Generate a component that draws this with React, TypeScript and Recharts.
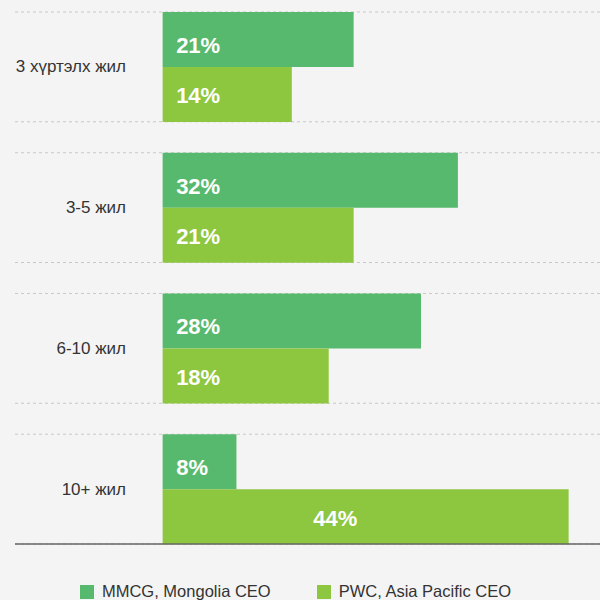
import React from 'react';
import { BarChart, Bar, XAxis, YAxis, CartesianGrid, Legend, LabelList } from 'recharts';

const categories = ['3 хүртэлх жил', '3-5 жил', '6-10 жил', '10+ жил'];
const mmcgValues = [20.7, 32, 28, 8];
const pwcValues = [14, 20.7, 18, 44];
const seriesNames = ['MMCG, Mongolia CEO', 'PWC, Asia Pacific CEO'];
const seriesColors = ['#57b96d', '#8dc63f'];

const data = categories.map((c, i) => ({ name: c, mmcg: mmcgValues[i], pwc: pwcValues[i] }));

const FONT = '"Liberation Sans", Arial, Helvetica, sans-serif';
const CAT_GAP = 0.11;

const bandStart = (scale: any, c: string, i: number, bw: number): number | undefined => {
  try {
    if (typeof scale === 'function') return scale(c);
    if (scale && typeof scale.map === 'function') {
      const v = scale.map(c);
      if (typeof v === 'number') return v;
    }
    if (scale && typeof scale.apply === 'function') {
      const v = scale.apply(c);
      if (typeof v === 'number') return v;
    }
    if (scale && typeof scale.range === 'function') {
      const r = scale.range();
      return Math.min(r[0], r[1]) + i * bw;
    }
  } catch (e) {
    /* ignore */
  }
  return undefined;
};

const gridGen = ({ yAxis }: any) => {
  if (!yAxis || !yAxis.scale) return [];
  const scale = yAxis.scale;
  let bw = 0;
  if (typeof scale.bandwidth === 'function') bw = scale.bandwidth();
  if (!bw && typeof scale.range === 'function') {
    const r = scale.range();
    bw = Math.abs(r[1] - r[0]) / categories.length;
  }
  const out: number[] = [];
  categories.forEach((c, i) => {
    const s = bandStart(scale, c, i, bw);
    if (typeof s === 'number' && !isNaN(s)) out.push(s + bw * CAT_GAP, s + bw * (1 - CAT_GAP));
  });
  return out;
};

const YTick = (props: any) => {
  const { x, y, payload } = props;
  return (
    <text x={x} y={y} dx={111} textAnchor="end" dominantBaseline="central" fill="#333" fontSize={17} fontFamily={FONT}>
      {payload.value}
    </text>
  );
};

const makeLabel = (dyShift: number) => (props: any) => {
  const { x, y, width, height, value } = props;
  const wide = value >= 40;
  return (
    <text
      x={wide ? x + width * 0.425 : x + 13.5}
      y={y + height / 2 + dyShift}
      textAnchor={wide ? 'middle' : 'start'}
      dominantBaseline="central"
      fill="#fff"
      fontWeight="bold"
      fontSize={22}
      fontFamily={FONT}
    >
      {Math.round(value)}%
    </text>
  );
};

const LegendContent = (props: any) => {
  const { payload } = props;
  return (
    <div style={{ display: 'flex', justifyContent: 'center', gap: 46, fontFamily: FONT, fontSize: 16.5, color: '#333', paddingRight: 9 }}>
      {(payload || []).map((p: any) => (
        <div key={p.value} style={{ display: 'flex', alignItems: 'center' }}>
          <span style={{ display: 'inline-block', width: 14, height: 14, background: p.color, marginRight: 8 }} />
          <span>{p.value}</span>
        </div>
      ))}
    </div>
  );
};

export default function App() {
  return (
    <div style={{ position: 'absolute', top: 0, left: 0, width: 600, height: 600, background: '#f4f4f4', overflow: 'hidden' }}>
      <BarChart
        width={600}
        height={600}
        data={data}
        layout="vertical"
        margin={{ top: 12, right: 0, bottom: 55, left: 14 }}
        barCategoryGap={`${CAT_GAP * 100}%`}
        barGap={0}
      >
        <CartesianGrid horizontal vertical={false} stroke="#c8c8c8" strokeDasharray="3 3" horizontalCoordinatesGenerator={gridGen} />
        <XAxis type="number" domain={[-16, 47.4]} allowDataOverflow tick={false} tickLine={false} height={1} axisLine={{ stroke: '#666', strokeWidth: 1.3 }} />
        <YAxis
          type="category"
          dataKey="name"
          width={1}
          tickSize={0}
          tickMargin={0}
          axisLine={false}
          tickLine={false}
          tick={<YTick />}
          padding={{ top: -15.5, bottom: -15.5 }}
          interval={0}
        />
        <Legend
          layout="horizontal"
          verticalAlign="middle"
          align="center"
          wrapperStyle={{ top: 582, left: 0, width: 600 }}
          content={<LegendContent />}
        />
        <Bar dataKey="mmcg" name={seriesNames[0]} fill={seriesColors[0]} isAnimationActive={false}>
          <LabelList dataKey="mmcg" content={makeLabel(6)} />
        </Bar>
        <Bar dataKey="pwc" name={seriesNames[1]} fill={seriesColors[1]} isAnimationActive={false}>
          <LabelList dataKey="pwc" content={makeLabel(1.5)} />
        </Bar>
      </BarChart>
    </div>
  );
}
